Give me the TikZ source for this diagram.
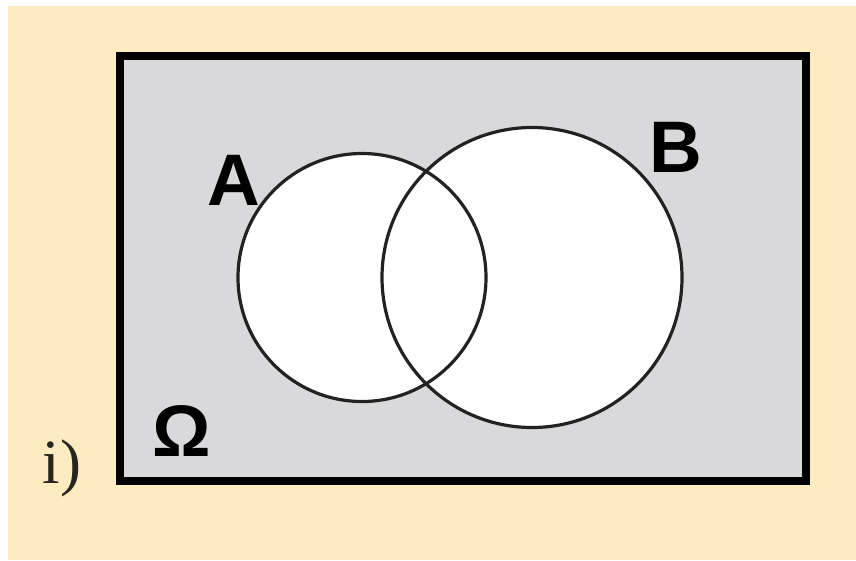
\documentclass[tikz,border=0pt]{standalone}
\usepackage{fontspec}
\setmainfont{Liberation Serif}
\newfontfamily\labfont{Liberation Sans}
\definecolor{cream}{RGB}{254,235,192}
\definecolor{boxgray}{RGB}{217,217,219}
\definecolor{linegray}{RGB}{34,34,34}
\definecolor{labcol}{RGB}{40,36,30}
\tikzset{
  setlabel/.style={anchor=base, inner sep=0pt, font=\labfont\bfseries\fontsize{73}{80}\selectfont, text=black},
  setcircle/.style={circle, fill=white, inner sep=0pt, outer sep=0pt},
  setoutline/.style={draw=linegray, line width=3.2pt},
  universe/.style={draw=black, line width=8pt, fill=boxgray, inner sep=0pt, outer sep=0pt, anchor=north west}
}
\begin{document}
\begin{tikzpicture}[x=1pt,y=-1pt]
\useasboundingbox (0,0) rectangle (856,560);
\fill[white] (0,0) rectangle (856,560);
\fill[cream] (8,6) rectangle (856,560);
\node[universe, minimum width=686.5pt, minimum height=425.5pt] (omega) at (119.5,55.5) {};
\node[setcircle, minimum size=300pt] (B) at (532,277.5) {};
\node[setcircle, minimum size=248pt] (A) at (362,277.5) {};
\draw[setoutline] (A) circle[radius=124pt];
\draw[setoutline] (B) circle[radius=150pt];
\node[setlabel] (labA) at (234,205) {A};
\node[setlabel] (labB) at (676,172) {B};
\node[setlabel] (labO) at (182,456) {Ω};
\node[anchor=base, inner sep=0pt, font=\fontsize{63}{70}\selectfont, text=labcol] (lab) at (62,483) {i)};
\end{tikzpicture}
\end{document}
